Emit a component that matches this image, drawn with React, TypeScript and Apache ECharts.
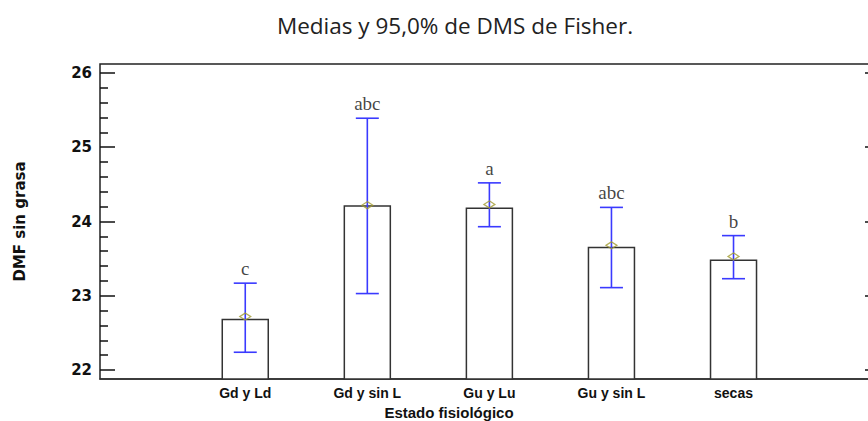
import React, { useEffect, useRef } from "react";
import * as echarts from "echarts";

const categories = ["Gd y Ld", "Gd y sin L", "Gu y Lu", "Gu y sin L", "secas"];
const means = [22.72, 24.22, 24.23, 23.68, 23.53];
const barTops = [22.68, 24.21, 24.18, 23.65, 23.48];
const lower = [22.24, 23.03, 23.93, 23.11, 23.23];
const upper = [23.17, 25.39, 24.52, 24.19, 23.81];
const letters = ["c", "abc", "a", "abc", "b"];
const yTicks = [22, 23, 24, 25, 26];
const titleText = "Medias y 95,0% de DMS de Fisher.";
const xName = "Estado fisiológico";
const yName = "DMF sin grasa";

const Y_MIN = 21.88;
const Y_MAX = 26.12;
const X_MIN = -0.19;
const X_MAX = 6.2;

export default function App() {
  const ref = useRef<HTMLDivElement>(null);
  useEffect(() => {
    if (!ref.current) return;
    const chart = echarts.init(ref.current, null, { renderer: "svg" });
    const minorTicks: number[] = [];
    for (let i = 0; i < yTicks.length - 1; i++) {
      for (let k = 1; k < 5; k++) minorTicks.push(yTicks[i] + ((yTicks[i + 1] - yTicks[i]) * k) / 5);
    }
    const xPos = categories.map((_, i) => i + 1);
    const yFont = "DejaVu Sans";
    const yAxisBase = {
      type: "value",
      min: Y_MIN,
      max: Y_MAX,
      splitLine: { show: false },
      axisLine: { show: false, onZero: false },
    };
    chart.setOption({
      animation: false,
      backgroundColor: "#fff",
      grid: {
        left: 100,
        top: 64,
        right: 0,
        bottom: 42,
        show: true,
        borderColor: "#222",
        borderWidth: 1.5,
        backgroundColor: "transparent",
      },
      xAxis: {
        type: "value",
        min: X_MIN,
        max: X_MAX,
        splitLine: { show: false },
        axisLine: { show: true, onZero: false, lineStyle: { color: "#333", width: 1.5 } },
        axisTick: { show: false },
        axisLabel: {
          customValues: xPos,
          formatter: (v: number) => categories[Math.round(v) - 1] ?? "",
          fontFamily: "Liberation Sans",
          fontWeight: "bold",
          fontSize: 14,
          color: "#111",
          margin: 7,
        },
      },
      yAxis: [
        {
          ...yAxisBase,
          position: "left",
          name: yName,
          nameLocation: "middle",
          nameRotate: 90,
          nameGap: 73,
          nameTextStyle: { fontFamily: yFont, fontWeight: "bold", fontSize: 15, color: "#111" },
          axisTick: {
            show: true,
            inside: true,
            length: 15,
            customValues: yTicks,
            lineStyle: { color: "#111", width: 1.5 },
          },
          axisLabel: {
            customValues: yTicks,
            fontFamily: yFont,
            fontWeight: "bold",
            fontSize: 15,
            color: "#111",
            margin: 8,
          },
        },
        {
          ...yAxisBase,
          position: "left",
          axisTick: {
            show: true,
            inside: true,
            length: 8,
            customValues: minorTicks,
            lineStyle: { color: "#111", width: 1.5 },
          },
          axisLabel: { show: false },
        },
        {
          ...yAxisBase,
          position: "right",
          axisTick: {
            show: true,
            inside: true,
            length: 15,
            customValues: yTicks,
            lineStyle: { color: "#111", width: 1.5 },
          },
          axisLabel: { show: false },
        },
      ],
      graphic: [
        {
          type: "text",
          x: 455,
          y: 25,
          style: {
            text: titleText,
            fontFamily: "Open Sans",
            fontSize: 22.5,
            fill: "#222",
            textAlign: "center",
            textVerticalAlign: "middle",
          },
        },
        {
          type: "text",
          x: 449,
          y: 412,
          style: {
            text: xName,
            fontFamily: "Liberation Sans",
            fontWeight: "bold",
            fontSize: 15,
            fill: "#111",
            textAlign: "center",
            textVerticalAlign: "middle",
          },
        },
      ],
      series: [
        {
          type: "custom",
          name: "bars",
          data: xPos.map((x, i) => [x, barTops[i]]),
          renderItem: (params: any, api: any) => {
            const p = api.coord([api.value(0), api.value(1)]);
            const bottomY = params.coordSys.y + params.coordSys.height;
            const hw = 23;
            return {
              type: "rect",
              shape: { x: p[0] - hw, y: p[1], width: hw * 2, height: bottomY - p[1] },
              style: { fill: "#fff", stroke: "#333", lineWidth: 1.5 },
            };
          },
          z: 2,
        },
        {
          type: "custom",
          name: "err",
          data: xPos.map((x, i) => [x, lower[i], upper[i]]),
          renderItem: (params: any, api: any) => {
            const x = api.value(0);
            const lo = api.coord([x, api.value(1)]);
            const hi = api.coord([x, api.value(2)]);
            const cw = 11.5;
            const st = { stroke: "#3a3aff", lineWidth: 1.6 };
            return {
              type: "group",
              children: [
                { type: "line", shape: { x1: lo[0], y1: lo[1], x2: hi[0], y2: hi[1] }, style: st },
                { type: "line", shape: { x1: hi[0] - cw, y1: hi[1], x2: hi[0] + cw, y2: hi[1] }, style: st },
                { type: "line", shape: { x1: lo[0] - cw, y1: lo[1], x2: lo[0] + cw, y2: lo[1] }, style: st },
              ],
            };
          },
          z: 3,
        },
        {
          type: "scatter",
          name: "means",
          data: xPos.map((x, i) => [x, means[i]]),
          symbol: "diamond",
          symbolSize: [11, 7],
          itemStyle: { color: "rgba(0,0,0,0)", borderColor: "#a09a30", borderWidth: 1.3 },
          z: 4,
        },
        {
          type: "scatter",
          name: "letters",
          data: xPos.map((x, i) => [x, upper[i]]),
          symbolSize: 0,
          label: {
            show: true,
            position: "top",
            distance: 5,
            formatter: (p: any) => letters[p.dataIndex],
            fontFamily: "Liberation Serif",
            fontSize: 19,
            color: "#111",
          },
          z: 5,
        },
      ],
    });
    return () => chart.dispose();
  }, []);
  return (
    <div style={{ position: "fixed", left: 0, top: 0, width: 868, height: 421, overflow: "hidden" }}>
      <div ref={ref} style={{ width: 880, height: 421 }} />
    </div>
  );
}
